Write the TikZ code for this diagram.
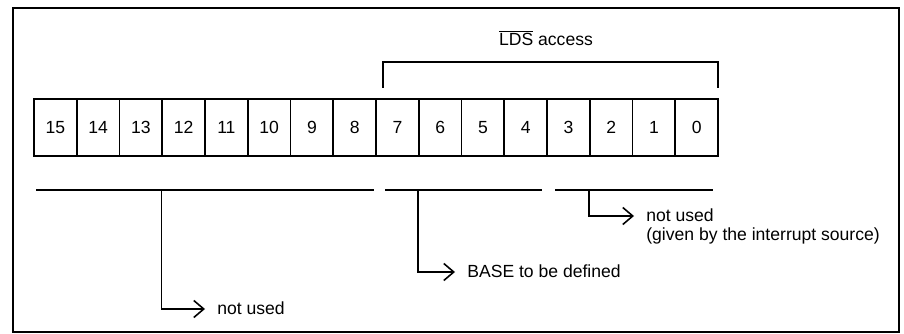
\documentclass[tikz,border=0pt]{standalone}
\usepackage{fontspec}
\setmainfont{Liberation Sans}
\usetikzlibrary{arrows.meta}
\usetikzlibrary{positioning}

\tikzset{
  bitcell/.style={draw, line width=0.9pt, minimum width=8.55mm, minimum height=11.4mm, inner sep=0pt},
  fieldline/.style={line width=0.9pt},
  pointer/.style={line width=0.9pt, -{Straight Barb[length=2mm,width=3.4mm,line width=0.9pt]}},
  note/.style={anchor=west, inner xsep=2.4mm, inner ysep=0pt, text height=1.6ex, text depth=0.4ex},
}

\begin{document}
\begin{tikzpicture}[x=0.2mm, y=-0.2mm, font=\fontsize{10}{12}\selectfont]
        \useasboundingbox (0,0) rectangle (904,334);
        \draw[line width=0.9pt] (13,8) rectangle (899,332);
        % register bits
        \foreach \b [count=\k from 0] in {15,14,...,0}
            \node[bitcell] (c\b) at (55.4+42.75*\k,127.5) {\b};
        % LDS bracket
        \node (lds) at (546,38) {$\overline{\mbox{LDS}}$ access};
        \coordinate (bl) at (383,88);
        \coordinate (br) at (718,88);
        \draw[fieldline] (bl) -- ++(0,-26) -| (br);
        % fields under the register
        \coordinate (f1a) at (36,190);
        \coordinate (f1b) at (374,190);
        \coordinate (f2a) at (385,190);
        \coordinate (f2b) at (542,190);
        \coordinate (f3a) at (555,190);
        \coordinate (f3b) at (713,190);
        \draw[fieldline] (f1a) -- (f1b);
        \draw[fieldline] (f2a) -- (f2b);
        \draw[fieldline] (f3a) -- (f3b);
        % notes
        \node[note] (nu1) at (205,309) {not used};
        \node[note] (base) at (455,272) {BASE to be defined};
        \node[note] (nu3) at (634,216) {not used};
        \node[note, below right=0pt and 0pt of nu3.south west] (src) {(given by the interrupt source)};
        \draw[pointer] (c12.west |- f1a) |- (nu1.west);
        \draw[pointer] (c6.west |- f2a) |- (base.west);
        \draw[pointer] (c2.west |- f3a) |- (nu3.west);
    \end{tikzpicture}
\end{document}
